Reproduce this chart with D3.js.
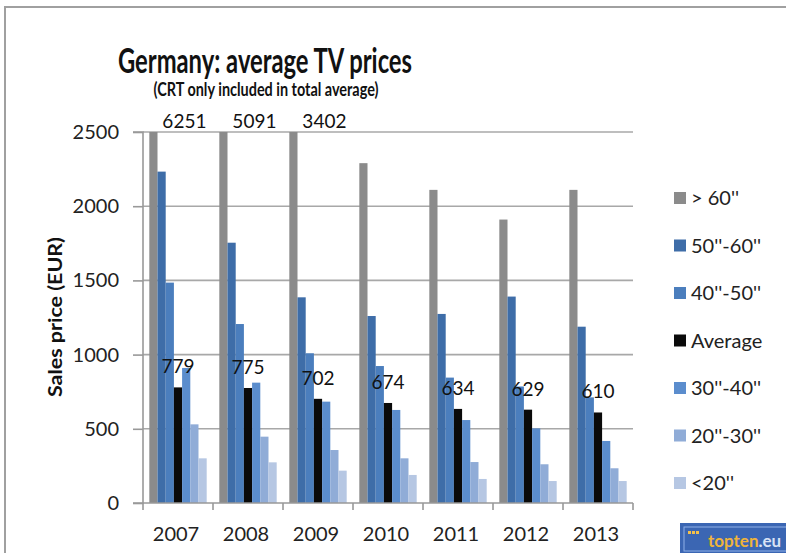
<!DOCTYPE html>
<html><head><meta charset="utf-8">
<script src="https://cdn.jsdelivr.net/npm/d3@7"></script>
<style>
body{margin:0;background:#fff;}
svg{display:block;font-family:Lato,"Open Sans",sans-serif;}
</style></head>
<body><svg id="c" width="786" height="553"></svg>
<script>
const years = ["2007","2008","2009","2010","2011","2012","2013"];
const seriesNames = ["> 60''","50''-60''","40''-50''","Average","30''-40''","20''-30''","<20''"];
const over60 = [6251,5091,3402,2290,2110,1910,2110];
const s50to60 = [2233,1754,1386,1260,1274,1391,1188];
const s40to50 = [1485,1206,1009,923,845,785,712];
const average = [779,775,702,674,634,629,610];
const s30to40 = [910,811,683,627,559,503,418];
const s20to30 = [530,447,357,301,276,261,234];
const under20 = [301,274,218,189,162,148,148];
const seriesValues = [over60,s50to60,s40to50,average,s30to40,s20to30,under20];
const colors = ["#8b8b8b","#3e6da8","#4b7ebd","#0a0a0a","#5b8dcd","#90acd7","#b6c7e3"];
const yTicks = [0,500,1000,1500,2000,2500];

const svg = d3.select("#c");
svg.append("rect").attr("x",5).attr("y",7).attr("width",800).attr("height",560)
  .attr("fill","#fff").attr("stroke","#a0a0a0").attr("stroke-width",2);

const plot = {left:143,right:633,top:132,bottom:503};
const y = d3.scaleLinear().domain([0,2500]).range([plot.bottom,plot.top]);
const x0 = d3.scaleBand().domain(years).range([plot.left,plot.right]);
const x1 = d3.scaleBand().domain(seriesNames).range([0,x0.bandwidth()]).paddingOuter(0.77).paddingInner(0);

svg.append("g").selectAll("line").data(yTicks.filter(d=>d>0)).join("line")
  .attr("x1",plot.left).attr("x2",plot.right).attr("y1",d=>y(d)).attr("y2",d=>y(d))
  .attr("stroke","#a8a8a8").attr("stroke-width",1.6);

const g = svg.append("g");
years.forEach((yr,i)=>{
  seriesNames.forEach((s,j)=>{
    const v = Math.min(seriesValues[j][i],2500);
    g.append("rect").attr("x",x0(yr)+x1(s)).attr("width",x1.bandwidth())
      .attr("y",y(v)).attr("height",y(0)-y(v)).attr("fill",colors[j]);
  });
});

const yAxis = d3.axisLeft(y).tickValues(yTicks).tickFormat(d3.format("d")).tickSize(10).tickPadding(14);
const ya = svg.append("g").attr("transform",`translate(${plot.left},0)`).call(yAxis);
ya.select(".domain").attr("stroke","#999").attr("stroke-width",1.6).attr("d",`M-10,${plot.top}H0V${plot.bottom}H-10`);
ya.selectAll(".tick line").attr("stroke","#999").attr("stroke-width",1.6);
ya.selectAll(".tick text").attr("font-size",20).attr("fill","#222").attr("font-family","Lato");

const xa = svg.append("g").attr("transform",`translate(0,${plot.bottom})`);
xa.append("line").attr("x1",plot.left).attr("x2",plot.right).attr("y1",0).attr("y2",0)
  .attr("stroke","#999").attr("stroke-width",1.6);
const bounds = years.map(d=>x0(d)).concat([x0(years[years.length-1])+x0.bandwidth()]);
xa.selectAll("line.t").data(bounds).join("line").attr("class","t")
  .attr("x1",d=>d).attr("x2",d=>d).attr("y1",0).attr("y2",7)
  .attr("stroke","#999").attr("stroke-width",1.6);
xa.selectAll("text").data(years).join("text")
  .attr("x",d=>x0(d)+x0.bandwidth()/2-2).attr("y",38)
  .attr("text-anchor","middle").attr("font-size",20).attr("fill","#222").text(d=>d);

svg.append("g").selectAll("text").data(years).join("text")
  .attr("x",(d)=>x0(d)+x1("Average")+x1.bandwidth()/2)
  .attr("y",(d,i)=>y(average[i])-14)
  .attr("text-anchor","middle").attr("font-size",19).attr("fill","#111")
  .text((d,i)=>average[i]);

svg.append("g").selectAll("text").data(years.filter((d,i)=>over60[i]>2500)).join("text")
  .attr("x",d=>x0(d)+x1("> 60''")+x1.bandwidth()/2+31)
  .attr("y",y(2500)-4)
  .attr("text-anchor","middle").attr("font-size",19).attr("fill","#111")
  .text(d=>over60[years.indexOf(d)]);

svg.append("text").attr("x",265).attr("y",73).attr("text-anchor","middle")
  .attr("font-size",34).attr("font-weight","bold").attr("fill","#111")
  .attr("textLength",294).attr("lengthAdjust","spacingAndGlyphs")
  .text("Germany: average TV prices");
svg.append("text").attr("x",266).attr("y",96).attr("text-anchor","middle")
  .attr("font-size",18).attr("font-weight","bold").attr("fill","#111")
  .attr("textLength",225).attr("lengthAdjust","spacingAndGlyphs")
  .text("(CRT only included in total average)");

svg.append("text").attr("transform","translate(62,317) rotate(-90)")
  .attr("text-anchor","middle").attr("font-size",18).attr("font-weight","bold").attr("fill","#111")
  .attr("textLength",160).attr("lengthAdjust","spacingAndGlyphs")
  .text("Sales price (EUR)");

const leg = svg.append("g");
const legY = d3.scalePoint().domain(seriesNames).range([198,483]);
seriesNames.forEach((s,j)=>{
  leg.append("rect").attr("x",674).attr("y",legY(s)-6).attr("width",12).attr("height",12).attr("fill",colors[j]);
  leg.append("text").attr("x",691).attr("y",legY(s)+7).attr("font-size",20).attr("fill","#222").text(s);
});

const logo = svg.append("g");
logo.append("rect").attr("x",680).attr("y",523).attr("width",110).attr("height",32).attr("fill","#3b66b3");
logo.append("rect").attr("x",684).attr("y",527).attr("width",110).attr("height",24).attr("fill","none").attr("stroke","#8fb0e8").attr("stroke-width",1);
[0,1,2].forEach(k=>logo.append("rect").attr("x",688+k*4).attr("y",531).attr("width",3).attr("height",3).attr("fill","#f3c04a"));
const lt = logo.append("text").attr("x",708).attr("y",547).attr("font-size",17).attr("font-weight","bold");
lt.append("tspan").attr("fill","#f0b43a").text("topten");
lt.append("tspan").attr("fill","#d8e2f5").text(".eu");
</script></body></html>
